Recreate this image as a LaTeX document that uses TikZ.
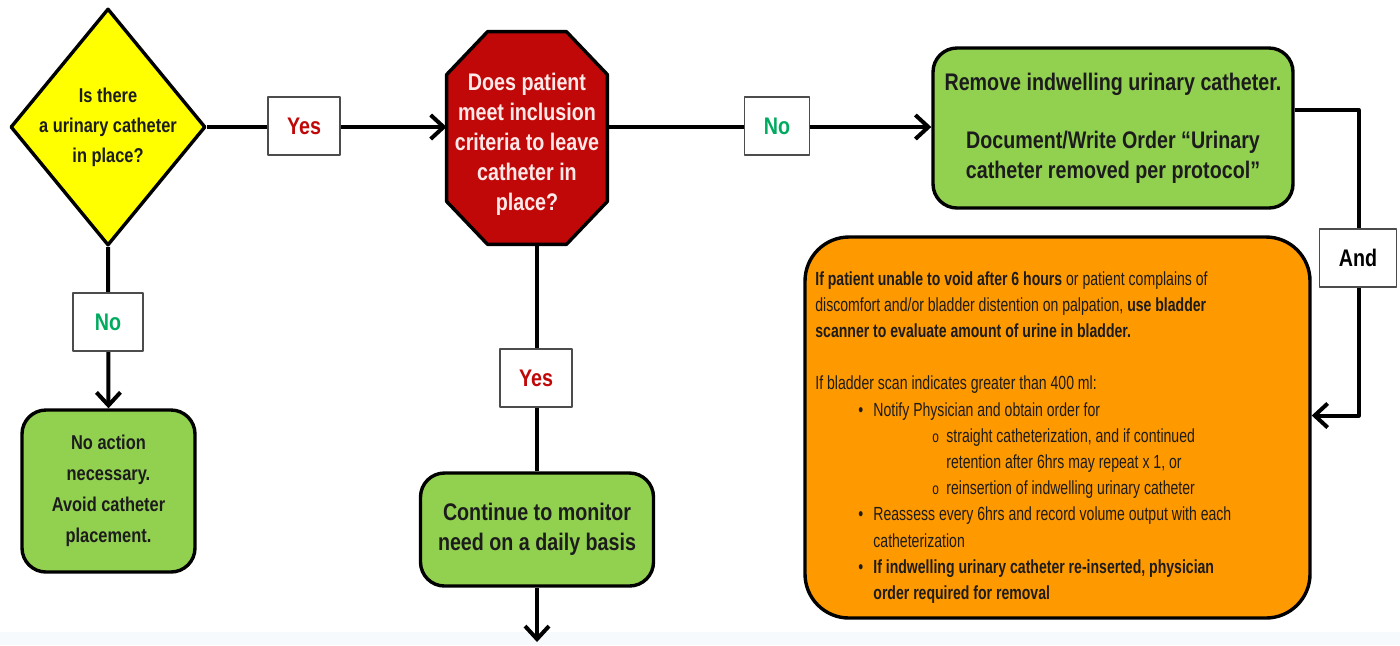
\documentclass[tikz,border=0pt]{standalone}
\usepackage{fontspec}
\setmainfont{Liberation Sans}
\newfontfamily\narrowfont{Liberation Sans}[FakeStretch=0.82]
\newfontfamily\narrowerfont{Liberation Sans}[FakeStretch=0.74]
\usetikzlibrary{arrows.meta,shapes.geometric}
\definecolor{flowyellow}{RGB}{255,255,0}
\definecolor{flowred}{RGB}{192,8,8}
\definecolor{flowpink}{RGB}{255,232,232}
\definecolor{flowgreen}{RGB}{146,208,80}
\definecolor{floworange}{RGB}{255,153,0}
\definecolor{flowteal}{RGB}{0,170,95}
\definecolor{flowtext}{RGB}{28,28,28}
\definecolor{flowmist}{RGB}{247,250,252}

\begin{document}
\begin{tikzpicture}[x=0.5pt,y=-0.5pt,line join=round,
 >={Straight Barb[length=6.5pt,width=12pt]},
 shapebox/.style={draw=black,line width=1.7pt,inner sep=0pt},
 stepbox/.style={shapebox,rounded corners=12pt,fill=flowgreen,align=center,
  text=flowtext,font={\narrowfont\bfseries\fontsize{12}{15}\selectfont}},
 asktext/.style={align=center,inner sep=0pt,text=flowtext,
  font={\narrowfont\bfseries\fontsize{10}{15}\selectfont}},
 tag/.style={draw=black!70,line width=0.7pt,fill=white,inner sep=0pt,
  minimum height=29pt,font={\narrowfont\bfseries\fontsize{12}{14}\selectfont}},
 link/.style={line width=2pt}]
 \useasboundingbox[fill=white] (0,0) rectangle (1400,645);
 \fill[flowmist] (0,632) rectangle (1400,645);
 % Dwa pytania w górnym rzędzie.
 \node[diamond,shapebox,fill=flowyellow,minimum width=97.5pt,
       minimum height=118.5pt] (incath) at (108,127) {};
 \node[asktext] at (incath) {Is there\\a urinary catheter\\in place?};
 \node[inner sep=0pt,minimum width=80pt,minimum height=106pt] (criteria) at (527,138) {};
 \filldraw[shapebox,fill=flowred]
  ([xshift=20.5pt]criteria.north west) -- ([xshift=-20.5pt]criteria.north east)
  -- ([yshift=-21.5pt]criteria.north east) -- ([yshift=21.5pt]criteria.south east)
  -- ([xshift=-20.5pt]criteria.south east) -- ([xshift=20.5pt]criteria.south west)
  -- ([yshift=21.5pt]criteria.south west) -- ([yshift=-21.5pt]criteria.north west)
  -- cycle;
 \node[asktext,text=flowpink,font={\narrowfont\bfseries\fontsize{12}{15}\selectfont}]
  at ([yshift=-3pt]criteria.center) {Does patient\\meet inclusion\\criteria to leave\\catheter in\\place?};
 % Zielone kroki.
 \node[stepbox,minimum width=180pt,minimum height=80pt] (remove) at (1113,128)
  {Remove indwelling urinary catheter.\\[14pt]Document/Write Order “Urinary\\catheter removed per protocol”};
 \node[stepbox,minimum width=86.5pt,minimum height=81pt,
       font={\narrowfont\bfseries\fontsize{10}{15.5}\selectfont}] (noaction) at (108.5,491)
  {No action\\necessary.\\Avoid catheter\\placement.};
 \node[stepbox,minimum width=116.5pt,minimum height=56.5pt] (monitor) at (537,529.5)
  {Continue to monitor\\need on a daily basis};
 % Pomarańczowe pole z instrukcją skanu pęcherza.
 \node[shapebox,rounded corners=22pt,fill=floworange,minimum width=252.5pt,
       minimum height=190.5pt] (scan) at (1057.5,427.5) {};
 \node[anchor=north west,inner sep=0pt,align=left,text=flowtext,
       font={\narrowerfont\fontsize{9.5}{13.1}\selectfont}] (scantext) at (815,271)
  {{\bfseries If patient unable to void after 6 hours} or patient complains of\\
   discomfort and/or bladder distention on palpation, {\bfseries use bladder}\\
   {\bfseries scanner to evaluate amount of urine in bladder.}\\[13.1pt]
   If bladder scan indicates greater than 400 ml:\\
   \hspace*{21.5pt}\makebox[7.5pt][l]{•}Notify Physician and obtain order for\\
   \hspace*{58.5pt}\makebox[7pt][l]{\fontsize{8}{13}\selectfont o}straight catheterization, and if continued\\
   \hspace*{65.5pt}retention after 6hrs may repeat x 1, or\\
   \hspace*{58.5pt}\makebox[7pt][l]{\fontsize{8}{13}\selectfont o}reinsertion of indwelling urinary catheter\\
   \hspace*{21.5pt}\makebox[7.5pt][l]{•}Reassess every 6hrs and record volume output with each\\
   \hspace*{29pt}catheterization\\
   \hspace*{21.5pt}\makebox[7.5pt][l]{•}{\bfseries If indwelling urinary catheter re-inserted, physician}\\
   \hspace*{29pt}{\bfseries order required for removal}};
 \coordinate (exit) at (537,642);
 % Połączenia.
 \draw[link,->] (incath.east) -- (incath.east -| criteria.west);
 \draw[link,->] (incath.east -| criteria.east) -- (incath.east -| remove.west);
 \draw[link,->] (incath.south) -- (noaction.north);
 \draw[link] (criteria.south -| monitor.north) -- (monitor.north);
 \draw[link,->] (monitor.south) -- (exit);
 \draw[link,->] ([yshift=9pt]remove.east) -- ++(64,0) |- ([yshift=6pt]scan.east);
 % Etykiety na liniach.
 \node[tag,text=flowred,minimum width=36pt] (yesright) at (304,126) {Yes};
 \node[tag,text=flowteal,minimum width=32.5pt] (noright) at (777,126) {No};
 \node[tag,text=flowteal,minimum width=35pt] (nodown) at (108,322) {No};
 \node[tag,text=flowred,minimum width=36pt] (yesdown) at (536,378) {Yes};
 \node[tag,text=black,minimum width=38.5pt] (andtag) at (1358,258) {And};
\end{tikzpicture}
\end{document}
